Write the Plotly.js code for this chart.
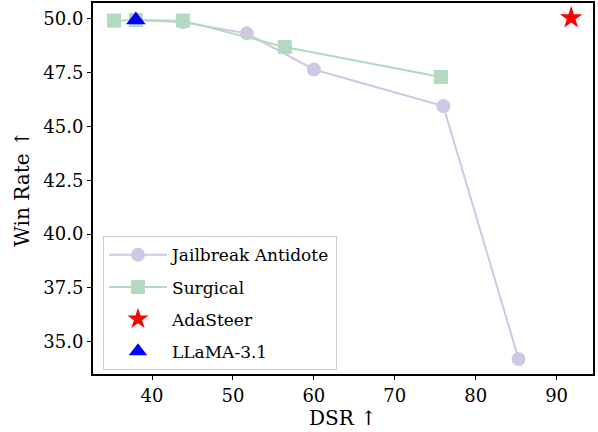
<!DOCTYPE html>
<html><head><meta charset="utf-8">
<script src="https://cdn.plot.ly/plotly-3.0.1.min.js"></script>
<style>html,body{margin:0;padding:0;background:#fff;}#chart{width:598px;height:432px;}</style>
</head><body><div id="chart"></div>
<script>
const antidoteX = [38.0, 43.8, 51.7, 60.0, 76.0, 85.3];
const antidoteY = [49.95, 49.85, 49.33, 47.65, 45.95, 34.2];
const surgicalX = [35.3, 38.0, 43.8, 56.4, 75.7];
const surgicalY = [49.92, 49.95, 49.92, 48.7, 47.3];
const adaX = [91.8];
const adaY = [50.05];
const llamaX = [38.0];
const llamaY = [49.95];
const yTickVals = [35, 37.5, 40, 42.5, 45, 47.5, 50];
const yTickText = ["35.0", "37.5", "40.0", "42.5", "45.0", "47.5", "50.0"];
const xTickVals = [40, 50, 60, 70, 80, 90];

const serif = "DejaVu Serif";
const traces = [
  {x: antidoteX, y: antidoteY, name: "Jailbreak Antidote", mode: "lines+markers", legendgroup: "a",
   line: {color: "#cfc7e3", width: 2}, marker: {symbol: "circle", size: 14, color: "#cfc7e3"}},
  {x: surgicalX, y: surgicalY, name: "Surgical", mode: "lines+markers", legendgroup: "b",
   line: {color: "#b3d9c0", width: 2}, marker: {symbol: "square", size: 14, color: "#b3d9c0"}},
  {x: adaX, y: adaY, name: "AdaSteer", mode: "markers", legendgroup: "c",
   marker: {symbol: "star", size: 17, color: "#ff0000"}},
  {x: llamaX, y: llamaY, name: "LLaMA-3.1", mode: "markers", legendgroup: "d",
   marker: {symbol: "triangle-up", size: 17, color: "#0000ff"}}
];
const layout = {
  width: 598, height: 432,
  margin: {l: 93, r: 5, t: 3, b: 58},
  paper_bgcolor: "#fff", plot_bgcolor: "#fff",
  font: {family: serif, color: "#000", size: 17},
  showlegend: true,
  legend: {x: 0.02, y: 0.01, xanchor: "left", yanchor: "bottom",
    bgcolor: "#fff", bordercolor: "#cccccc", borderwidth: 1,
    font: {family: serif, size: 17}, tracegroupgap: 7, itemwidth: 58},
  xaxis: {range: [32.7, 94.5], tickvals: xTickVals, ticks: "outside", ticklen: 4,
    tickcolor: "#000", showgrid: false, zeroline: false, showline: true, mirror: true,
    linecolor: "#000", linewidth: 2, tickfont: {family: serif, size: 18},
    title: {text: "DSR ↑", font: {family: serif, size: 20}, standoff: 2}},
  yaxis: {range: [33.5, 50.74], tickvals: yTickVals, ticktext: yTickText, ticks: "outside", ticklen: 4,
    tickcolor: "#000", showgrid: false, zeroline: false, showline: true, mirror: true,
    linecolor: "#000", linewidth: 2, tickfont: {family: serif, size: 18},
    title: {text: "Win Rate ↑", font: {family: serif, size: 20}, standoff: 8}}
};
Plotly.newPlot("chart", traces, layout, {displayModeBar: false, staticPlot: true});
</script></body></html>
